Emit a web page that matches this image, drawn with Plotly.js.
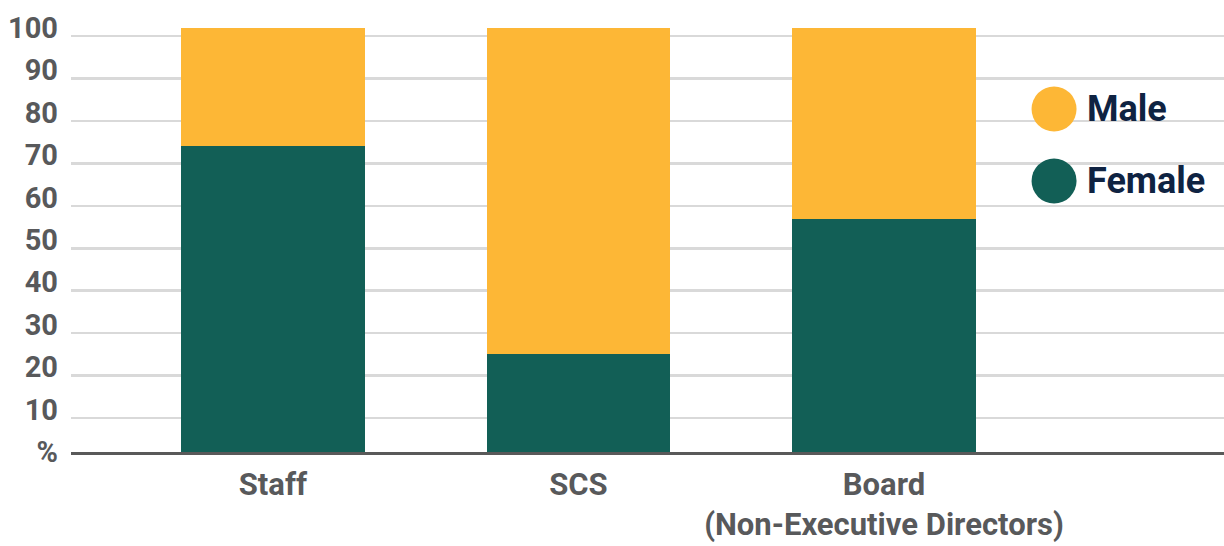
<!DOCTYPE html>
<html>
<head>
<meta charset="utf-8">
<script src="https://cdn.plot.ly/plotly-3.0.1.min.js"></script>
<style>
  html, body { margin: 0; padding: 0; background: #ffffff; }
  #chart { width: 1224px; height: 546px; }
</style>
</head>
<body>
<div id="chart"></div>
<script>
// Workforce gender split, percent
const categories = ['Staff', 'SCS', 'Board<br>(Non-Executive Directors)'];
const femaleValues = [72, 23, 55];
const maleValues = [28, 77, 45];

const seriesNames = ['Male', 'Female'];
const seriesColors = ['#fdb736', '#125f56'];

const yTickValues = [0, 10, 20, 30, 40, 50, 60, 70, 80, 90, 100];
const yTickLabels = ['%', '10', '20', '30', '40', '50', '60', '70', '80', '90', '100'];
const gridValues = [10, 20, 30, 40, 50, 60, 70, 80, 90, 100];

const fontFamily = 'Roboto, "DejaVu Sans", sans-serif';
const yLabelFont = { family: fontFamily, size: 29, color: '#58595b', weight: 700 };
const xLabelFont = { family: fontFamily, size: 31, color: '#58595b', weight: 700 };

const traces = [
  {
    type: 'bar',
    name: seriesNames[1],
    x: categories,
    y: femaleValues,
    marker: { color: seriesColors[1], line: { width: 0 } },
    hoverinfo: 'x+y+name'
  },
  {
    type: 'bar',
    name: seriesNames[0],
    x: categories,
    y: maleValues,
    marker: { color: seriesColors[0], line: { width: 0 } },
    hoverinfo: 'x+y+name'
  },
  // carrier for the grid axis
  {
    type: 'scatter',
    mode: 'none',
    x: [],
    y: [],
    yaxis: 'y2',
    showlegend: false,
    hoverinfo: 'skip'
  }
];

// legend: large round swatches with labels
const legendX = 0.8526;
const legendTextX = 0.8795;
const legendRows = [0.7588, 0.5996];

const shapes = [
  {
    type: 'rect', xref: 'paper', yref: 'paper',
    x0: 0.8118, x1: 1.0, y0: 0.4624, y1: 0.9115,
    fillcolor: '#ffffff', line: { width: 0 }, layer: 'between'
  }
];
const annotations = [];
seriesNames.forEach((name, i) => {
  shapes.push({
    type: 'circle', xref: 'paper', yref: 'paper',
    xsizemode: 'pixel', ysizemode: 'pixel',
    xanchor: legendX, yanchor: legendRows[i],
    x0: -22.5, x1: 22.5, y0: -22.5, y1: 22.5,
    fillcolor: seriesColors[i], line: { width: 0 }, layer: 'above'
  });
  annotations.push({
    xref: 'paper', yref: 'paper',
    x: legendTextX, y: legendRows[i],
    xanchor: 'left', yanchor: 'middle',
    text: name, showarrow: false,
    font: { family: fontFamily, size: 36, color: '#0f2342', weight: 700 }
  });
});

const layout = {
  width: 1224,
  height: 546,
  margin: { l: 71, r: 0, t: 0, b: 94 },
  paper_bgcolor: '#ffffff',
  plot_bgcolor: '#ffffff',
  barmode: 'stack',
  bargap: 0.4,
  showlegend: false,
  xaxis: {
    type: 'category',
    range: [-0.661, 3.113],
    showgrid: false,
    zeroline: false,
    showline: true,
    linecolor: '#595959',
    linewidth: 2.5,
    ticks: '',
    ticklabelstandoff: 3,
    tickfont: xLabelFont,
    fixedrange: true
  },
  yaxis: {
    range: [0, 106.5],
    tickmode: 'array',
    tickvals: yTickValues,
    ticktext: yTickLabels,
    showgrid: false,
    zeroline: false,
    showline: false,
    ticks: '',
    ticklabelstandoff: 12,
    tickfont: yLabelFont,
    fixedrange: true
  },
  yaxis2: {
    overlaying: 'y',
    range: [2, 108.5],
    tickmode: 'array',
    tickvals: gridValues,
    showticklabels: false,
    showgrid: true,
    gridcolor: '#d9d9d9',
    gridwidth: 2.6,
    zeroline: false,
    showline: false,
    ticks: '',
    fixedrange: true
  },
  shapes: shapes,
  annotations: annotations
};

Plotly.newPlot('chart', traces, layout, { displayModeBar: false, staticPlot: true });
</script>
</body>
</html>
